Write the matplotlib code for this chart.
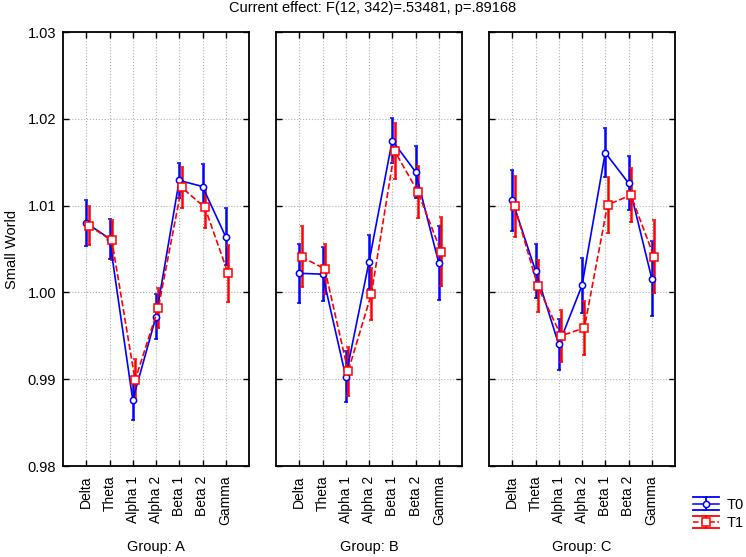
import numpy as np
import matplotlib
matplotlib.use('Agg')
import matplotlib.pyplot as plt
from matplotlib.lines import Line2D
from matplotlib.legend_handler import HandlerBase

plt.rcParams['font.family'] = ['Liberation Sans', 'DejaVu Sans']

bands = ['Delta', 'Theta', 'Alpha 1', 'Alpha 2', 'Beta 1', 'Beta 2', 'Gamma']
groups = ['A', 'B', 'C']

# group A
a_t0 = [1.0080, 1.0062, 0.9876, 0.9972, 1.0129, 1.0122, 1.0064]
a_t0_err = [0.0027, 0.0023, 0.0023, 0.0026, 0.0020, 0.0026, 0.0033]
a_t1 = [1.0077, 1.0060, 0.9899, 0.9982, 1.0121, 1.0098, 1.0022]
a_t1_err = [0.0022, 0.0023, 0.0024, 0.0023, 0.0024, 0.0024, 0.0033]
# group B
b_t0 = [1.0022, 1.0021, 0.9903, 1.0035, 1.0175, 1.0139, 1.0034]
b_t0_err = [0.0034, 0.0031, 0.0029, 0.0031, 0.0026, 0.0030, 0.0043]
b_t1 = [1.0041, 1.0027, 0.9909, 0.9998, 1.0163, 1.0116, 1.0047]
b_t1_err = [0.0035, 0.0029, 0.0028, 0.0030, 0.0032, 0.0030, 0.0040]
# group C
c_t0 = [1.0106, 1.0025, 0.9940, 1.0008, 1.0161, 1.0126, 1.0016]
c_t0_err = [0.0035, 0.0031, 0.0029, 0.0032, 0.0028, 0.0031, 0.0043]
c_t1 = [1.0099, 1.0007, 0.9950, 0.9959, 1.0101, 1.0112, 1.0041]
c_t1_err = [0.0035, 0.0030, 0.0030, 0.0031, 0.0032, 0.0031, 0.0042]

t0_all = [a_t0, b_t0, c_t0]
t0_err_all = [a_t0_err, b_t0_err, c_t0_err]
t1_all = [a_t1, b_t1, c_t1]
t1_err_all = [a_t1_err, b_t1_err, c_t1_err]

BLUE = '#0000ff'
RED = '#ff0000'


class ErrHandler(HandlerBase):
    # legend key like the statistica one: wide caps top and bottom
    def __init__(self, color, ls, marker, ms):
        super().__init__()
        self.color = color
        self.ls = ls
        self.marker = marker
        self.ms = ms

    def create_artists(self, legend, orig_handle, xdescent, ydescent,
                       width, height, fontsize, trans):
        x0 = -xdescent
        x1 = width - xdescent
        cx = (x0 + x1) / 2
        ym = height / 2 - ydescent
        d = 4.6
        arts = [
            Line2D([x0, x1], [ym + d, ym + d], color=self.color, lw=1.3),
            Line2D([x0, x1], [ym - d, ym - d], color=self.color, lw=1.3),
            Line2D([cx, cx], [ym - d, ym + d], color=self.color, lw=1.3),
            Line2D([x0, x1], [ym, ym], color=self.color, lw=1.1, ls=self.ls),
            Line2D([cx], [ym], marker=self.marker, ms=self.ms, mfc='white',
                   mec=self.color, mew=1.1, ls='none'),
        ]
        for a in arts:
            a.set_transform(trans)
        return arts


fig = plt.figure(figsize=(7.46, 5.57), dpi=100, facecolor='white')
lefts = [63, 276, 489]
x = np.arange(1, len(bands) + 1)

for i, g in enumerate(groups):
    ax = fig.add_axes([lefts[i] / 746, 91 / 557, 186 / 746, 434 / 557])
    l0 = ax.errorbar(x, t0_all[i], yerr=t0_err_all[i], color=BLUE, ls='-', lw=1.2,
                     marker='o', ms=4.5, mfc='white', mec=BLUE, mew=1.1,
                     capsize=1.5, elinewidth=1.8, zorder=3)
    l1 = ax.errorbar(x + 0.1, t1_all[i], yerr=t1_err_all[i], color=RED, ls='--', lw=1.2,
                     marker='s', ms=5.4, mfc='white', mec=RED, mew=1.1,
                     capsize=1.5, elinewidth=1.8, zorder=3)
    ax.set_xlim(0, 8)
    ax.set_ylim(0.98, 1.03)
    ax.set_xticks(x)
    ax.set_xticklabels(bands, rotation=90, fontsize=10)
    ax.set_yticks([0.98, 0.99, 1.00, 1.01, 1.02, 1.03])
    ax.set_yticklabels(['0.98', '0.99', '1.00', '1.01', '1.02', '1.03'], fontsize=10.5)
    ax.grid(True, color='#b0b0b0', ls=':', lw=0.8)
    ax.tick_params(direction='in', top=True, right=True, length=4, width=1)
    ax.tick_params(axis='x', pad=7)
    ax.tick_params(axis='y', pad=5)
    for s in ax.spines.values():
        s.set_linewidth(1.3)
    if i > 0:
        ax.set_yticklabels([])
    else:
        ax.set_ylabel('Small World', fontsize=10.5, va='center')
        ax.yaxis.set_label_coords((12 - 63) / 186, 0.5)
    ax.set_xlabel('Group: ' + g, fontsize=10.5, va='center')
    ax.xaxis.set_label_coords(0.5, -81 / 434)

fig.text(0.5, 1 - 8 / 557, 'Current effect: F(12, 342)=.53481, p=.89168', ha='center',
         va='center', fontsize=10.5)
fig.legend([l0, l1], ['T0', 'T1'], loc='center left',
           bbox_to_anchor=(693 / 746, 1 - 514 / 557),
           handler_map={l0: ErrHandler(BLUE, '-', 'o', 4.5),
                        l1: ErrHandler(RED, '--', 's', 5.4)},
           frameon=False, fontsize=10.5, handlelength=1.8, handletextpad=0.5,
           labelspacing=0.3, borderpad=0, borderaxespad=0)

fig.savefig('out.png', dpi=100)
